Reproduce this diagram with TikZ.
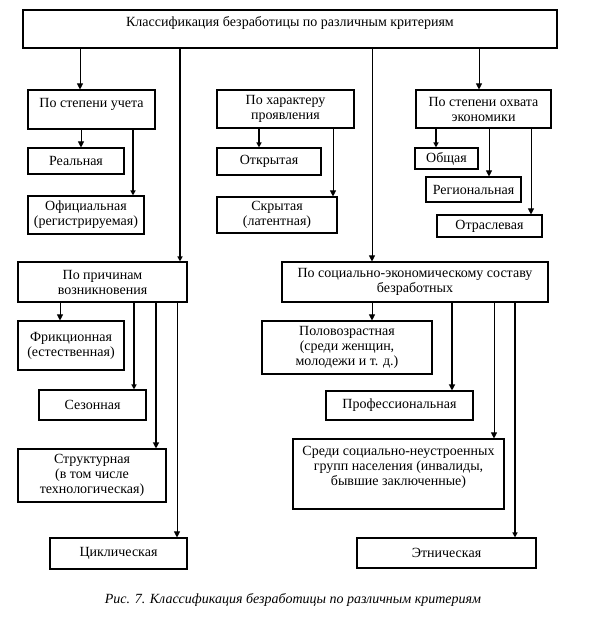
\documentclass[tikz,border=0pt]{standalone}
\usepackage{fontspec}
\setmainfont{Liberation Serif}
\usetikzlibrary{arrows.meta}
\newcommand\mybox[6]{\node[box, minimum width={#4-#2}, minimum height={#5-#3}] (#1) at ({(#2+#4)/2},{(#3+#5)/2}) {#6};}
\newcommand\conn[4]{\coordinate (x#1#2) at (#3,0); \draw[#4] (#1.south -| x#1#2) -- (#2.north -| x#1#2);}
\begin{document}
\begin{tikzpicture}[x=1pt,y=-1pt,
  box/.style={draw, line width=1.1pt, inner sep=1pt, align=center, font=\fontsize{14}{15}\selectfont},
  txt/.style={inner sep=0pt, align=center, font=\fontsize{14}{15}\selectfont},
  thinarr/.style={line width=0.8pt, -{Triangle[length=6pt,width=6pt]}},
  medarr/.style={line width=1.2pt, -{Triangle[length=6pt,width=6pt]}},
  thickarr/.style={line width=1.9pt, -{Triangle[length=5pt,width=5pt]}}]
\useasboundingbox (0,0) rectangle (590,629);
\mybox{top}{23}{10}{557}{48}{}
\node[txt] (toptext) at (290,23) {Классификация безработицы по различным критериям};
\mybox{uchet}{28}{90}{155}{129}{}
\node[txt] (uchettext) at (91.5,104) {По степени учета};
\mybox{real}{28}{148}{124}{174}{Реальная}
\mybox{ofic}{28}{196}{144}{234}{Официальная\\(регистрируемая)}
\mybox{harakter}{217}{90}{354}{128}{По характеру\\проявления}
\mybox{otkr}{217}{148}{321}{175}{Открытая}
\mybox{skryt}{217}{197}{337}{233}{Скрытая\\(латентная)}
\mybox{ohvat}{416}{90}{551}{128}{По степени охвата\\экономики}
\mybox{obsh}{415}{148}{478}{169}{Общая}
\mybox{region}{426}{177}{521}{202}{Региональная}
\mybox{otrasl}{437}{215}{542}{237}{Отраслевая}
\mybox{prich}{18}{262}{187}{302}{По причинам\\возникновения}
\mybox{frik}{18}{321}{124}{370}{Фрикционная\\(естественная)}
\mybox{sezon}{39}{390}{146}{420}{Сезонная}
\mybox{strukt}{18}{449}{166}{502}{Структурная\\(в том числе\\технологическая)}
\mybox{cikl}{50}{538}{187}{569}{Циклическая}
\mybox{socec}{282}{262}{548}{302}{По социально-экономическому составу\\безработных}
\mybox{polo}{262}{321}{432}{374}{Половозрастная\\(среди женщин,\\молодежи и т. д.)}
\mybox{prof}{326}{391}{473}{420}{Профессиональная}
\mybox{sredi}{293}{439}{504}{509}{}
\node[txt] (sreditext) at (398.5,467) {Среди социально-неустроенных\\групп населения (инвалиды,\\бывшие заключенные)};
\mybox{etn}{357}{538}{536}{568}{Этническая}
\conn{top}{uchet}{80}{thinarr}
\conn{top}{prich}{180}{thickarr}
\conn{top}{socec}{372}{thinarr}
\conn{top}{ohvat}{479}{thinarr}
\conn{uchet}{real}{81}{thinarr}
\conn{uchet}{ofic}{133}{thickarr}
\conn{harakter}{otkr}{259}{thickarr}
\conn{harakter}{skryt}{333}{thinarr}
\conn{ohvat}{obsh}{436}{thickarr}
\conn{ohvat}{region}{489}{thinarr}
\conn{ohvat}{otrasl}{531}{thinarr}
\conn{prich}{frik}{60}{thinarr}
\conn{prich}{sezon}{134}{thickarr}
\conn{prich}{strukt}{156}{medarr}
\conn{prich}{cikl}{177}{thinarr}
\conn{socec}{polo}{372}{thinarr}
\conn{socec}{prof}{452}{medarr}
\conn{socec}{sredi}{494}{thinarr}
\conn{socec}{etn}{515}{thickarr}
\node[inner sep=0pt, font=\fontsize{14}{16}\selectfont\itshape] (caption) at (293,600) {Рис. 7. Классификация безработицы по различным критериям};
\end{tikzpicture}
\end{document}
